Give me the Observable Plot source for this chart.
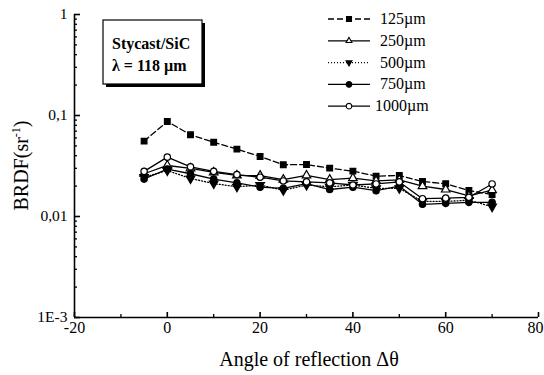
<!DOCTYPE html>
<html><head><meta charset="utf-8">
<script src="https://cdn.jsdelivr.net/npm/d3@7"></script>
<script src="https://cdn.jsdelivr.net/npm/@observablehq/plot@0.6"></script>
<style>
body{margin:0;background:#fff}
#chart{width:544px;height:375px}
</style>
</head><body><div id="chart"></div>
<script>
// ---- data ----
const angles = [-5, 0, 5, 10, 15, 20, 25, 30, 35, 40, 45, 50, 55, 60, 65, 70];
const seriesNames = ["125µm", "250µm", "500µm", "750µm", "1000µm"];
const brdf125  = [0.0557, 0.0872, 0.0644, 0.0544, 0.0464, 0.0393, 0.0325, 0.0327, 0.0301, 0.0281, 0.0251, 0.0255, 0.0222, 0.0211, 0.0181, 0.0165];
const brdf250  = [0.0265, 0.0320, 0.0300, 0.0273, 0.0255, 0.0254, 0.0232, 0.0255, 0.0232, 0.0240, 0.0225, 0.0230, 0.0200, 0.0185, 0.0160, 0.0182];
const brdf500  = [0.0245, 0.0285, 0.0238, 0.0212, 0.0197, 0.0205, 0.0182, 0.0205, 0.0197, 0.0205, 0.0190, 0.0190, 0.0141, 0.0141, 0.0145, 0.0125];
const brdf750  = [0.0235, 0.0295, 0.0265, 0.0235, 0.0215, 0.0195, 0.0190, 0.0212, 0.0185, 0.0195, 0.0180, 0.0200, 0.0132, 0.0135, 0.0138, 0.0138];
const brdf1000 = [0.0280, 0.0387, 0.0310, 0.0280, 0.0260, 0.0245, 0.0225, 0.0220, 0.0215, 0.0205, 0.0210, 0.0220, 0.0150, 0.0152, 0.0155, 0.0210];
const xMajorTicks = [-20, 0, 20, 40, 60, 80];
const xMinorTicks = [-10, 10, 30, 50, 70];
const yMajorTicks = [0.001, 0.01, 0.1, 1];
const yTickLabels = ["1E-3", "0,01", "0,1", "1"];
const yMinorTicks = [0.002,0.003,0.004,0.005,0.006,0.007,0.008,0.009,
                     0.02,0.03,0.04,0.05,0.06,0.07,0.08,0.09,
                     0.2,0.3,0.4,0.5,0.6,0.7,0.8,0.9];
const annotationLines = ["Stycast/SiC", "λ = 118 µm"];
const xTitle = "Angle of reflection Δθ";

// ---- layout & styles ----
const W = 544, H = 375, mL = 74, mR = 6, mT = 14, mB = 58;
const plotW = W - mL - mR, plotH = H - mT - mB;
const seriesValues = [brdf125, brdf250, brdf500, brdf750, brdf1000];
const styles = [
  {symbol: "square",   fill: "black", dash: "6,3", rotate: 0},
  {symbol: "triangle", fill: "white", dash: null,  rotate: 0},
  {symbol: "triangle", fill: "black", dash: "1,2", rotate: 180},
  {symbol: "circle",   fill: "black", dash: null,  rotate: 0},
  {symbol: "circle",   fill: "white", dash: null,  rotate: 0}
];

const table = seriesNames.flatMap((s, i) =>
  angles.map((a, j) => ({series: s, angle: a, brdf: seriesValues[i][j]})));

const font = "'Liberation Serif', 'Times New Roman', serif";
const fmtX = d => d3.format("d")(d).replace("−", "-");

const lineMarks = seriesNames.map((s, i) =>
  Plot.line(table.filter(d => d.series === s), {
    x: "angle", y: "brdf", stroke: "black", strokeWidth: 1.3,
    strokeDasharray: styles[i].dash
  }));
const dotMarks = seriesNames.map((s, i) =>
  Plot.dot(table.filter(d => d.series === s), {
    x: "angle", y: "brdf", symbol: () => styles[i].symbol,
    fill: styles[i].fill, stroke: "black", strokeWidth: 1.2,
    r: 3.2, rotate: styles[i].rotate
  }));

const plot = Plot.plot({
  width: W, height: H,
  marginLeft: mL, marginRight: mR, marginTop: mT, marginBottom: mB,
  style: {fontFamily: font, fontSize: "15px", color: "black", background: "white"},
  x: {domain: [-20, 80], axis: null},
  y: {type: "log", domain: [0.001, 1], axis: null},
  symbol: {type: "identity"},
  marks: [
    // inward tick marks
    Plot.tickX(xMajorTicks, {x: d => d, insetTop: plotH - 5, stroke: "black", strokeWidth: 1.6}),
    Plot.tickX(xMinorTicks, {x: d => d, insetTop: plotH - 3, stroke: "black", strokeWidth: 1.3}),
    Plot.tickY(yMajorTicks, {y: d => d, insetRight: plotW - 6, stroke: "black", strokeWidth: 1.6}),
    Plot.tickY(yMinorTicks, {y: d => d, insetRight: plotW - 3, stroke: "black", strokeWidth: 1.3}),
    // axis lines
    Plot.ruleX([-20], {stroke: "black", strokeWidth: 1.6}),
    Plot.ruleY([0.001], {stroke: "black", strokeWidth: 1.6}),
    // tick labels
    Plot.text(xMajorTicks.slice(0, -1), {x: d => d, text: fmtX, frameAnchor: "bottom", dy: 15,
                                         fontSize: 16, fill: "black"}),
    Plot.text(xMajorTicks.slice(-1), {x: d => d, text: fmtX, frameAnchor: "bottom", dy: 15, dx: -3,
                                      fontSize: 16, fill: "black"}),
    Plot.text(yMajorTicks, {y: d => d, text: d => yTickLabels[yMajorTicks.indexOf(d)],
                            frameAnchor: "left", dx: -7, textAnchor: "end", fontSize: 15.5, fill: "black"}),
    ...lineMarks,
    ...dotMarks
  ]
});
document.getElementById("chart").appendChild(plot);

// ---- overlay: titles, annotation box, legend ----
const svg = d3.select(plot);
const xs = plot.scale("x"), ys = plot.scale("y");

svg.append("text")
  .attr("x", (xs.apply(-20) + xs.apply(80)) / 2 + 3).attr("y", 366)
  .attr("text-anchor", "middle").attr("font-family", font).attr("font-size", 20)
  .attr("fill", "black").text(xTitle);

const yt = svg.append("text")
  .attr("transform", `translate(28,${(ys.apply(0.001) + ys.apply(1)) / 2}) rotate(-90)`)
  .attr("text-anchor", "middle").attr("font-family", font).attr("font-size", 20)
  .attr("fill", "black");
yt.append("tspan").text("BRDF(sr");
yt.append("tspan").attr("font-size", 12).attr("dy", -8).text("-1");
yt.append("tspan").attr("dy", 8).text(")");

// annotation box with shadow
const bx = 103, by = 20, bw = 99, bh = 64;
svg.append("rect").attr("x", bx + 3).attr("y", by + 3).attr("width", bw).attr("height", bh).attr("fill", "black");
svg.append("rect").attr("x", bx).attr("y", by).attr("width", bw).attr("height", bh)
  .attr("fill", "white").attr("stroke", "black").attr("stroke-width", 1.2);
annotationLines.forEach((t, i) => {
  svg.append("text").attr("x", bx + 9).attr("y", by + 29 + i * 22)
    .attr("text-anchor", "start")
    .attr("font-family", font).attr("font-size", 16).attr("font-weight", "bold")
    .attr("fill", "black").text(t);
});

// legend
const symMap = {square: d3.symbolSquare, triangle: d3.symbolTriangle2, circle: d3.symbolCircle};
seriesNames.forEach((s, i) => {
  const y = 19 + i * 21.8;
  const g = svg.append("g");
  g.append("line").attr("x1", 328).attr("x2", 370).attr("y1", y).attr("y2", y)
    .attr("stroke", "black").attr("stroke-width", 1.3)
    .attr("stroke-dasharray", styles[i].dash);
  g.append("path")
    .attr("d", d3.symbol(symMap[styles[i].symbol], Math.PI * 2.8 * 2.8)())
    .attr("transform", `translate(349,${y}) rotate(${styles[i].rotate})`)
    .attr("fill", styles[i].fill).attr("stroke", "black").attr("stroke-width", 1.1);
  g.append("text").attr("x", i === 4 ? 375 : 380).attr("y", y + 5)
    .attr("text-anchor", "start")
    .attr("font-family", font).attr("font-size", 16).attr("fill", "black").text(s);
});
</script>
</body></html>
